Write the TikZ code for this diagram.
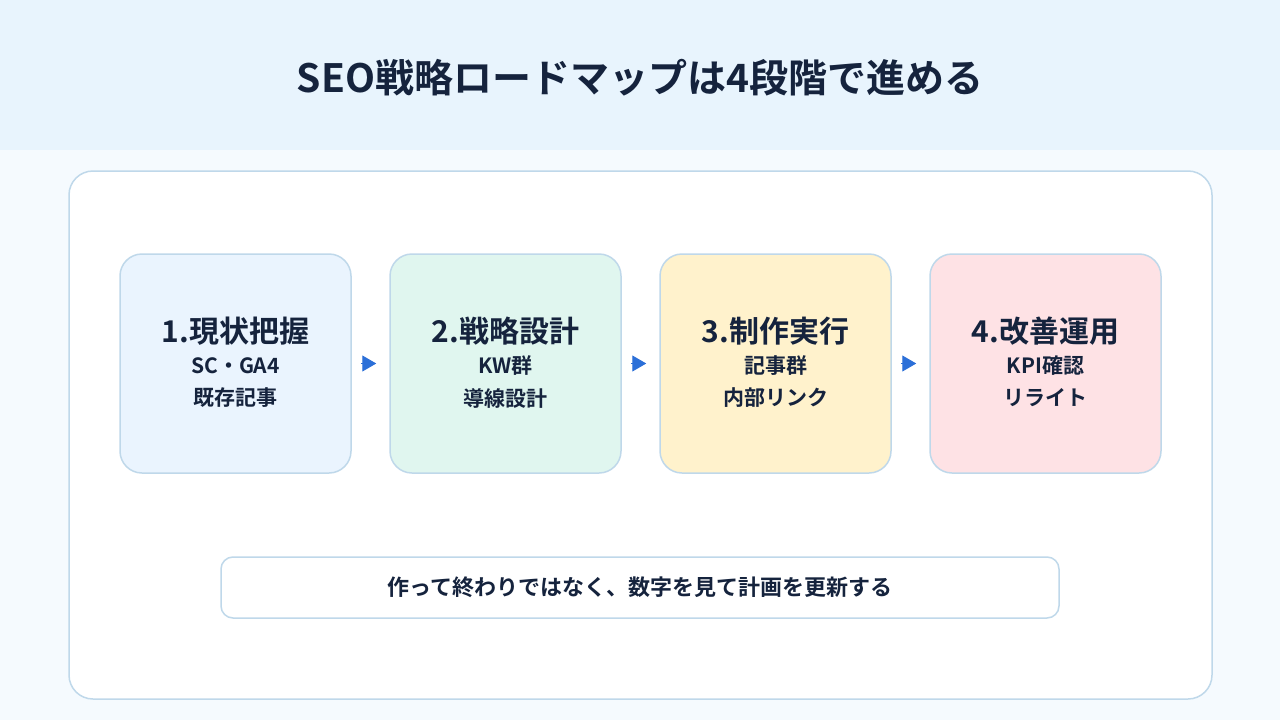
\documentclass[tikz,border=0pt]{standalone}
\usepackage{fontspec}
\setmainfont{Noto Sans CJK JP}[BoldFont={Noto Sans CJK JP Bold}]
\usetikzlibrary{arrows.meta}
\definecolor{hdr}{HTML}{E8F4FD}
\definecolor{bgc}{HTML}{F5FAFE}
\definecolor{edge}{HTML}{BFD8EA}
\definecolor{ink}{HTML}{15233D}
\definecolor{arr}{HTML}{2B6FD8}
\definecolor{c1}{HTML}{EAF4FE}
\definecolor{c2}{HTML}{E0F6EF}
\definecolor{c3}{HTML}{FFF2CC}
\definecolor{c4}{HTML}{FEE2E5}
\tikzset{
  stage/.style={draw=edge, line width=1.5pt, rounded corners=22pt, minimum width=231pt, minimum height=219pt, inner sep=0pt},
  stitle/.style={text=ink, font=\fontsize{30}{34}\selectfont\bfseries, inner sep=0pt},
  ssub/.style={text=ink, font=\fontsize{21}{24}\selectfont\bfseries, inner sep=0pt},
  flow/.style={arr, line width=1pt, -{Triangle[length=14pt,width=16pt]}}
}
\begin{document}
\begin{tikzpicture}[x=1pt,y=-1pt]
\useasboundingbox (0,0) rectangle (1280,720);
\fill[bgc] (0,0) rectangle (1280,720);
\fill[hdr] (0,0) rectangle (1280,150);
\node[text=ink, font=\fontsize{39}{43}\selectfont\bfseries] (title) at (640,78) {SEO戦略ロードマップは4段階で進める};
\node[draw=edge, line width=1.5pt, fill=white, rounded corners=24pt, minimum width=1143pt, minimum height=528pt] (panel) at (640.5,435) {};
\node[stage, fill=c1] (b1) at (235.5,363.5) {};
\node[stage, fill=c2] (b2) at (505.5,363.5) {};
\node[stage, fill=c3] (b3) at (775.5,363.5) {};
\node[stage, fill=c4] (b4) at (1045.5,363.5) {};
\foreach \i/\t/\a/\b in {1/{1.現状把握}/{SC・GA4}/{既存記事},2/{2.戦略設計}/{KW群}/{導線設計},3/{3.制作実行}/{記事群}/{内部リンク},4/{4.改善運用}/{KPI確認}/{リライト}}{
  \node[stitle] (t\i) at ([yshift=32.5pt]b\i.center) {\t};
  \node[ssub] (s\i) at ([yshift=-2.5pt]b\i.center) {\a};
  \node[ssub] (u\i) at ([yshift=-34.5pt]b\i.center) {\b};
}
\draw[flow] ([xshift=9pt]b1.east) -- ([xshift=-13pt]b2.west);
\draw[flow] ([xshift=9pt]b2.east) -- ([xshift=-13pt]b3.west);
\draw[flow] ([xshift=9pt]b3.east) -- ([xshift=-13pt]b4.west);
\node[draw=edge, line width=1.5pt, fill=white, rounded corners=12pt, minimum width=838pt, minimum height=61pt] (note) at (640,587.5) {};
\node[text=ink, font=\fontsize{22}{25}\selectfont\bfseries] (notetext) at (note.center) {作って終わりではなく、数字を見て計画を更新する};
\end{tikzpicture}
\end{document}
